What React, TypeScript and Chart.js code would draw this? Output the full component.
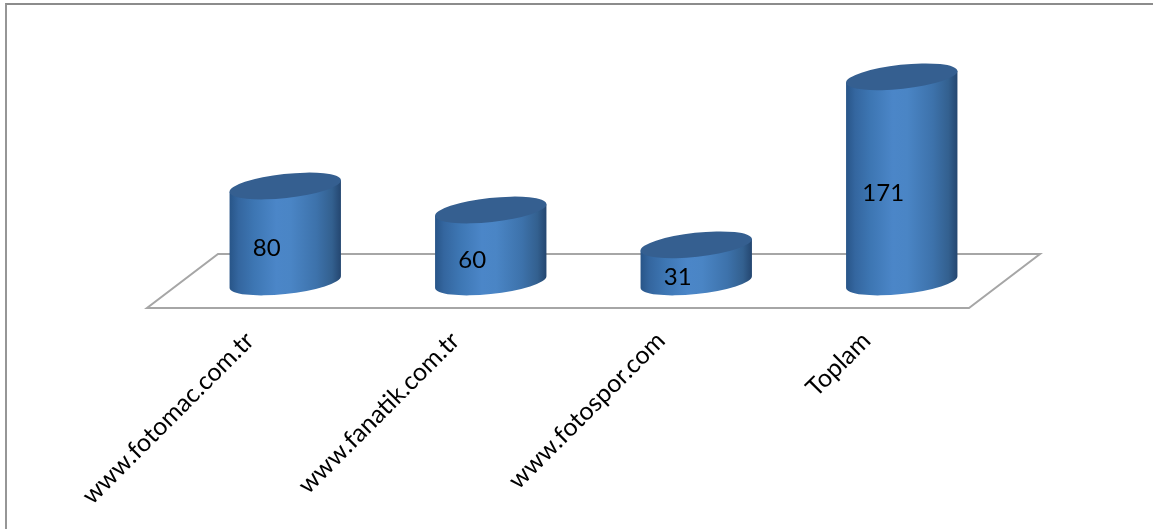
import React, { useEffect, useRef } from "react";
import { Chart, registerables } from "chart.js";

Chart.register(...registerables);

const categories = ["www.fotomac.com.tr", "www.fanatik.com.tr", "www.fotospor.com", "Toplam"];
const values = [80, 60, 31, 171];

const FONT = 'Lato, sans-serif';
const DEPTH_X = 35.5;
const DEPTH_Y = 26;
const TILT = -6.2 * (Math.PI / 180);
const MINOR = 12;

const cylinders = {
  id: "cylinders",
  beforeDatasetsDraw(chart: any) {
    const { ctx, chartArea: a } = chart;
    ctx.save();
    ctx.strokeStyle = "#a6a6a6";
    ctx.lineWidth = 2;
    ctx.beginPath();
    ctx.moveTo(a.left, a.bottom);
    ctx.lineTo(a.right, a.bottom);
    ctx.lineTo(a.right + 71, a.bottom - 54);
    ctx.lineTo(a.left + 71, a.bottom - 54);
    ctx.closePath();
    ctx.stroke();
    ctx.restore();
  },
  afterDatasetsDraw(chart: any) {
    const { ctx } = chart;
    const meta = chart.getDatasetMeta(0);
    meta.data.forEach((bar: any, i: number) => {
      const cx = bar.x + DEPTH_X;
      const top = bar.y - DEPTH_Y;
      const base = bar.base - DEPTH_Y;
      const major = bar.width / 2;
      const tR = Math.atan2(-MINOR * Math.sin(TILT), major * Math.cos(TILT));
      const ex = major * Math.cos(tR) * Math.cos(TILT) - MINOR * Math.sin(tR) * Math.sin(TILT);
      const ey = major * Math.cos(tR) * Math.sin(TILT) + MINOR * Math.sin(tR) * Math.cos(TILT);

      const g = ctx.createLinearGradient(cx - ex, 0, cx + ex, 0);
      g.addColorStop(0, "#285588");
      g.addColorStop(0.08, "#34669f");
      g.addColorStop(0.22, "#3d76b3");
      g.addColorStop(0.42, "#4b86c8");
      g.addColorStop(0.55, "#4a85c5");
      g.addColorStop(0.78, "#3d72ab");
      g.addColorStop(0.92, "#33608f");
      g.addColorStop(1, "#244670");

      ctx.save();
      ctx.fillStyle = g;
      ctx.beginPath();
      ctx.moveTo(cx + ex, top + ey);
      ctx.lineTo(cx + ex, base + ey);
      ctx.ellipse(cx, base, major, MINOR, TILT, tR, tR + Math.PI, false);
      ctx.lineTo(cx - ex, top - ey);
      ctx.closePath();
      ctx.fill();

      ctx.fillStyle = "#355f90";
      ctx.beginPath();
      ctx.ellipse(cx, top, major, MINOR, TILT, 0, Math.PI * 2);
      ctx.fill();

      ctx.fillStyle = "#000000";
      ctx.font = `24px ${FONT}`;
      ctx.textAlign = "center";
      ctx.textBaseline = "middle";
      ctx.fillText(String(values[i]), cx - 18.5, (top + base) / 2 + 14);
      ctx.restore();
    });
  },
};

export default function App() {
  const ref = useRef<HTMLCanvasElement>(null);
  useEffect(() => {
    const chart = new Chart(ref.current!, {
      type: "bar",
      data: {
        labels: categories,
        datasets: [
          {
            data: values,
            backgroundColor: "rgba(0,0,0,0)",
            categoryPercentage: 1,
            barPercentage: 0.545,
          },
        ],
      },
      options: {
        animation: false,
        responsive: false,
        layout: { padding: { left: 147, right: 184, top: 68, bottom: 0 } },
        plugins: { legend: { display: false }, tooltip: { enabled: false } },
        scales: {
          x: {
            grid: { display: false, drawTicks: false },
            border: { display: false },
            afterFit(scale: any) {
              scale.height = 221;
            },
            ticks: {
              minRotation: 45,
              maxRotation: 45,
              padding: 18,
              color: "#000000",
              font: { family: FONT, size: 25 },
            },
          },
          y: {
            display: false,
            min: 0,
            max: 200,
          },
        },
      },
      plugins: [cylinders],
    } as any);
    return () => chart.destroy();
  }, []);
  return (
    <div style={{ position: "absolute", left: 0, top: 0, width: 1153, height: 529, background: "#fff", overflow: "hidden" }}>
      <div
        style={{
          position: "absolute",
          left: 5,
          top: 3,
          right: 0,
          bottom: 0,
          borderTop: "2px solid #8c8c8c",
          borderLeft: "2px solid #969696",
        }}
      />
      <canvas ref={ref} width={1153} height={529} style={{ position: "absolute", left: 0, top: 0, display: "block" }} />
    </div>
  );
}
